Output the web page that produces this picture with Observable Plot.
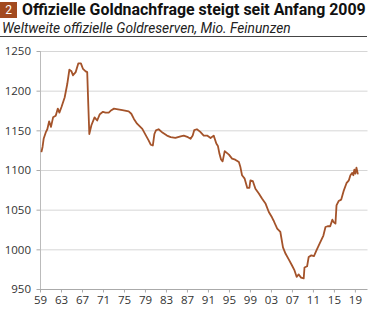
<!DOCTYPE html>
<html>
<head>
<meta charset="utf-8">
<script src="https://cdn.jsdelivr.net/npm/d3@7"></script>
<script src="https://cdn.jsdelivr.net/npm/@observablehq/plot@0.6"></script>
<style>
  html, body { margin: 0; padding: 0; background: #fff; }
  body { width: 370px; height: 312px; overflow: hidden; font-family: "Open Sans", sans-serif; }
  #head { position: relative; height: 38px; }
  #num { position: absolute; left: 0; top: 2px; width: 17px; height: 16px; background: #a24a1f; }
  #num span { position: absolute; left: 0; width: 17px; top: 1px; text-align: center; color: #fff;
              font: 12px Roboto, sans-serif; line-height: normal; }
  #title { position: absolute; left: 22px; top: 0px; font: bold 15px Roboto, sans-serif; color: #111; white-space: nowrap; line-height: normal; }
  #sub { position: absolute; left: 2px; top: 17px; font: italic 13px Roboto, sans-serif; color: #222; white-space: nowrap; line-height: normal; }
  #rule { position: absolute; left: 0; top: 36px; width: 367px; height: 1px; background: #444; }
  #chart svg { display: block; }
</style>
</head>
<body>
<div id="head">
  <div id="num"><span>2</span></div>
  <span id="title">Offizielle Goldnachfrage steigt seit Anfang 2009</span>
  <span id="sub">Weltweite offizielle Goldreserven, Mio. Feinunzen</span>
  <div id="rule"></div>
</div>
<div id="chart"></div>
<script>
const years = [1959.2,1959.4,1959.6,1960.0,1960.3,1960.65,1961.0,1961.4,1961.9,1962.3,1962.6,1963.0,1963.6,1964.1,1964.5,1964.9,1965.2,1965.7,1966.2,1966.7,1967.1,1967.6,1967.9,1968.1,1968.3,1968.7,1969.3,1969.8,1970.3,1970.9,1971.4,1972.0,1972.5,1973.0,1973.5,1974.6,1975.8,1976.3,1976.8,1977.4,1978.4,1979.1,1979.6,1980.0,1980.4,1980.7,1981.0,1981.5,1982.3,1983.1,1983.8,1984.7,1985.7,1986.3,1987.1,1987.6,1988.0,1988.3,1988.8,1989.4,1990.1,1990.75,1991.4,1992.0,1992.5,1992.8,1993.1,1993.4,1993.7,1994.1,1994.9,1995.5,1996.1,1996.8,1997.1,1997.4,1997.9,1998.4,1998.8,1999.0,1999.45,1999.95,2000.6,2001.2,2001.9,2002.5,2003.1,2003.4,2003.8,2004.1,2004.7,2005.2,2005.7,2006.3,2006.9,2007.4,2007.8,2008.2,2008.65,2009.15,2009.3,2009.8,2010.1,2010.6,2011.1,2011.6,2012.2,2012.9,2013.3,2013.7,2014.2,2014.6,2014.85,2015.2,2015.4,2015.8,2016.3,2016.8,2017.3,2017.75,2018.05,2018.4,2018.6,2018.8,2019.0,2019.2,2019.45];
const reserves = [1124,1130,1140,1148,1152,1162,1155,1167,1169,1178,1173,1180,1192,1209,1227,1225,1220,1224,1235,1235,1228,1225,1224,1184,1146,1157,1167,1163,1171,1174,1173,1173,1176,1178,1177.5,1176,1174.5,1171.5,1165,1159,1152.5,1144,1138,1132.5,1131.5,1146,1150.5,1152,1147.5,1144,1142,1141,1143,1144,1142,1140,1144,1151,1152,1149,1144,1144,1141,1144,1134,1131,1121,1114,1111.5,1124.5,1120,1115,1113.7,1110.6,1104,1094,1089.7,1078,1078,1087.6,1086.7,1077,1071,1064.6,1058,1047.7,1041,1037,1031,1026.8,1022.5,1003,995,988,980.6,974,966,969,965,964,977.7,979.3,991,993,992,999.5,1008,1018,1028.8,1029.7,1029.7,1038,1035,1033,1056,1061.5,1063.3,1075,1084,1087.6,1094,1097,1094,1101,1096,1103.6,1096];
const xTicks = [1959,1963,1967,1971,1975,1979,1983,1987,1991,1995,1999,2003,2007,2011,2015,2019];
const yTicks = [950,1000,1050,1100,1150,1200,1250];

const data = years.map((y, i) => ({year: y, value: reserves[i]}));

function fit(id, target) {
  const el = document.getElementById(id);
  const w = el.getBoundingClientRect().width;
  const fs = parseFloat(getComputedStyle(el).fontSize);
  el.style.fontSize = (fs * target / w) + "px";
}
fit("title", 344);
fit("sub", 289);
// stack subtitle just below the title's text box, so the two never overlap
const tb = document.getElementById("title").getBoundingClientRect();
const sub = document.getElementById("sub");
sub.style.top = Math.max(17.5, tb.bottom + 0.5) + "px";

const chart = Plot.plot({
  width: 370,
  height: 274,
  marginLeft: 40,
  marginRight: 2.5,
  marginTop: 13,
  marginBottom: 23,
  style: {fontFamily: "Open Sans, sans-serif", fontSize: "11.5px", color: "#333", background: "#fff"},
  x: {domain: [1959, 2021.4]},
  y: {domain: [950, 1250]},
  marks: [
    Plot.gridY(yTicks.filter(d => d > 950), {stroke: "#d6d6d6", strokeOpacity: 1, strokeWidth: 1}),
    Plot.ruleY([950], {stroke: "#aaa"}),
    Plot.ruleX([1959], {stroke: "#bbb"}),
    Plot.axisY(yTicks, {tickSize: 3.5, tickPadding: 6, stroke: "#aaa", fill: "#333", label: null,
      tickFormat: d => String(d)}),
    Plot.axisX(xTicks, {tickSize: 3.5, tickPadding: 3, stroke: "#aaa", fill: "#333", label: null,
      tickFormat: d => String(d % 100).padStart(2, "0")}),
    Plot.line(data, {x: "year", y: "value", stroke: "#a4532a", strokeWidth: 1.8, curve: "linear"})
  ]
});
document.getElementById("chart").appendChild(chart);
</script>
</body>
</html>
